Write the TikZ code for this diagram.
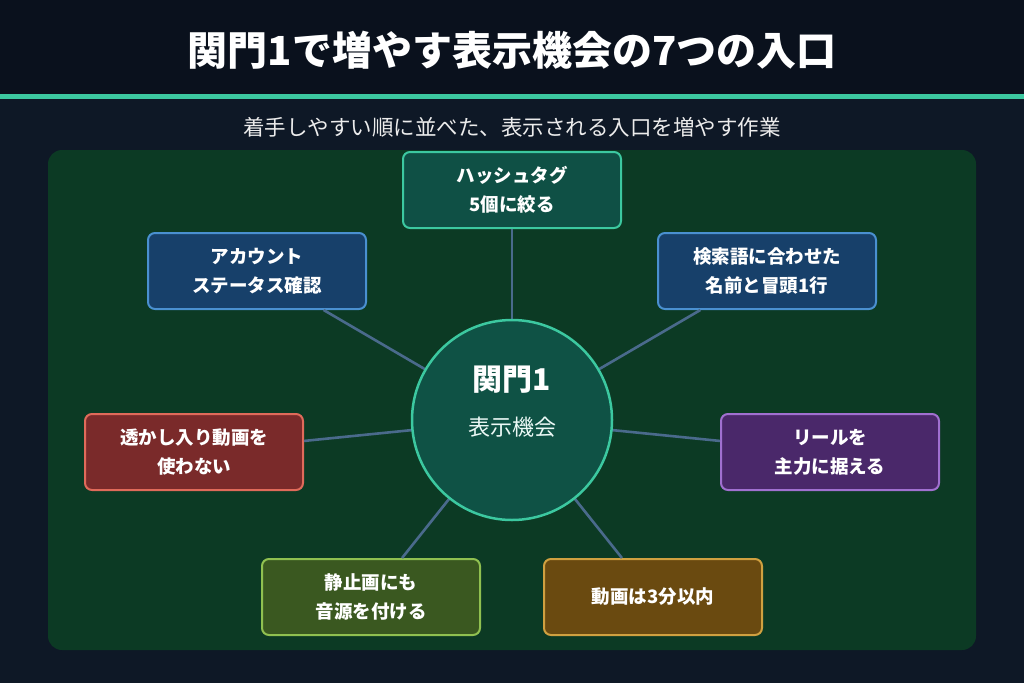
\documentclass[tikz,border=0pt]{standalone}
\usepackage{fontspec}
\setmainfont{Noto Sans CJK JP}
\begin{document}
\begin{tikzpicture}[x=1pt,y=-1pt,
 box/.style={draw,rounded corners=7pt,line width=2pt,minimum width=218pt,minimum height=76pt,align=center,text=white,font=\fontsize{18.5}{29}\selectfont\bfseries},
 conn/.style={draw=linkc,line width=2.6pt}]
\definecolor{bgc}{HTML}{0E1826}
\definecolor{topc}{HTML}{0A111D}
\definecolor{tealc}{HTML}{3CC8A0}
\definecolor{panelc}{HTML}{0C3A24}
\definecolor{linkc}{HTML}{4A6A8C}
\useasboundingbox (0,0) rectangle (1024,683);
\fill[bgc] (0,0) rectangle (1024,683);
\fill[topc] (0,0) rectangle (1024,94);
\fill[tealc] (0,94) rectangle (1024,99);
\node[text=white,font=\fontsize{40}{46}\selectfont\bfseries] (title) at (512,50) {関門1で増やす表示機会の7つの入口};
\node[text=white!85!gray,font=\fontsize{21.5}{26}\selectfont] (sub) at (512,127) {着手しやすい順に並べた、表示される入口を増やす作業};
\fill[panelc,rounded corners=14pt] (48,150) rectangle (976,650);
\coordinate (c) at (512,420);
\node[box,fill={rgb,255:red,15;green,80;blue,69},draw=tealc] (n1) at (512,190) {ハッシュタグ\\5個に絞る};
\node[box,fill={rgb,255:red,23;green,64;blue,106},draw={rgb,255:red,74;green,144;blue,208}] (n2) at (257,271) {アカウント\\ステータス確認};
\node[box,fill={rgb,255:red,23;green,64;blue,106},draw={rgb,255:red,74;green,144;blue,208}] (n3) at (767,271) {検索語に合わせた\\名前と冒頭1行};
\node[box,fill={rgb,255:red,122;green,42;blue,42},draw={rgb,255:red,224;green,106;blue,90}] (n4) at (194,452) {透かし入り動画を\\使わない};
\node[box,fill={rgb,255:red,74;green,40;blue,106},draw={rgb,255:red,160;green,112;blue,208}] (n5) at (830,452) {リールを\\主力に据える};
\node[box,fill={rgb,255:red,58;green,88;blue,32},draw={rgb,255:red,144;green,192;blue,80}] (n6) at (371,597) {静止画にも\\音源を付ける};
\node[box,fill={rgb,255:red,106;green,74;blue,16},draw={rgb,255:red,208;green,160;blue,64}] (n7) at (653,597) {動画は3分以内};
\foreach \n in {n1,n2,n3,n4,n5,n6,n7} \draw[conn] (c) -- (\n);
\node[circle,minimum size=200pt,fill={rgb,255:red,15;green,82;blue,69},draw=tealc,line width=2.5pt] (hub) at (c) {};
\node[text=white,font=\fontsize{30}{34}\selectfont\bfseries] (h1) at (512,380) {関門1};
\node[text=white!90!tealc,font=\fontsize{22}{26}\selectfont] (h2) at (512,427) {表示機会};
\end{tikzpicture}
\end{document}
